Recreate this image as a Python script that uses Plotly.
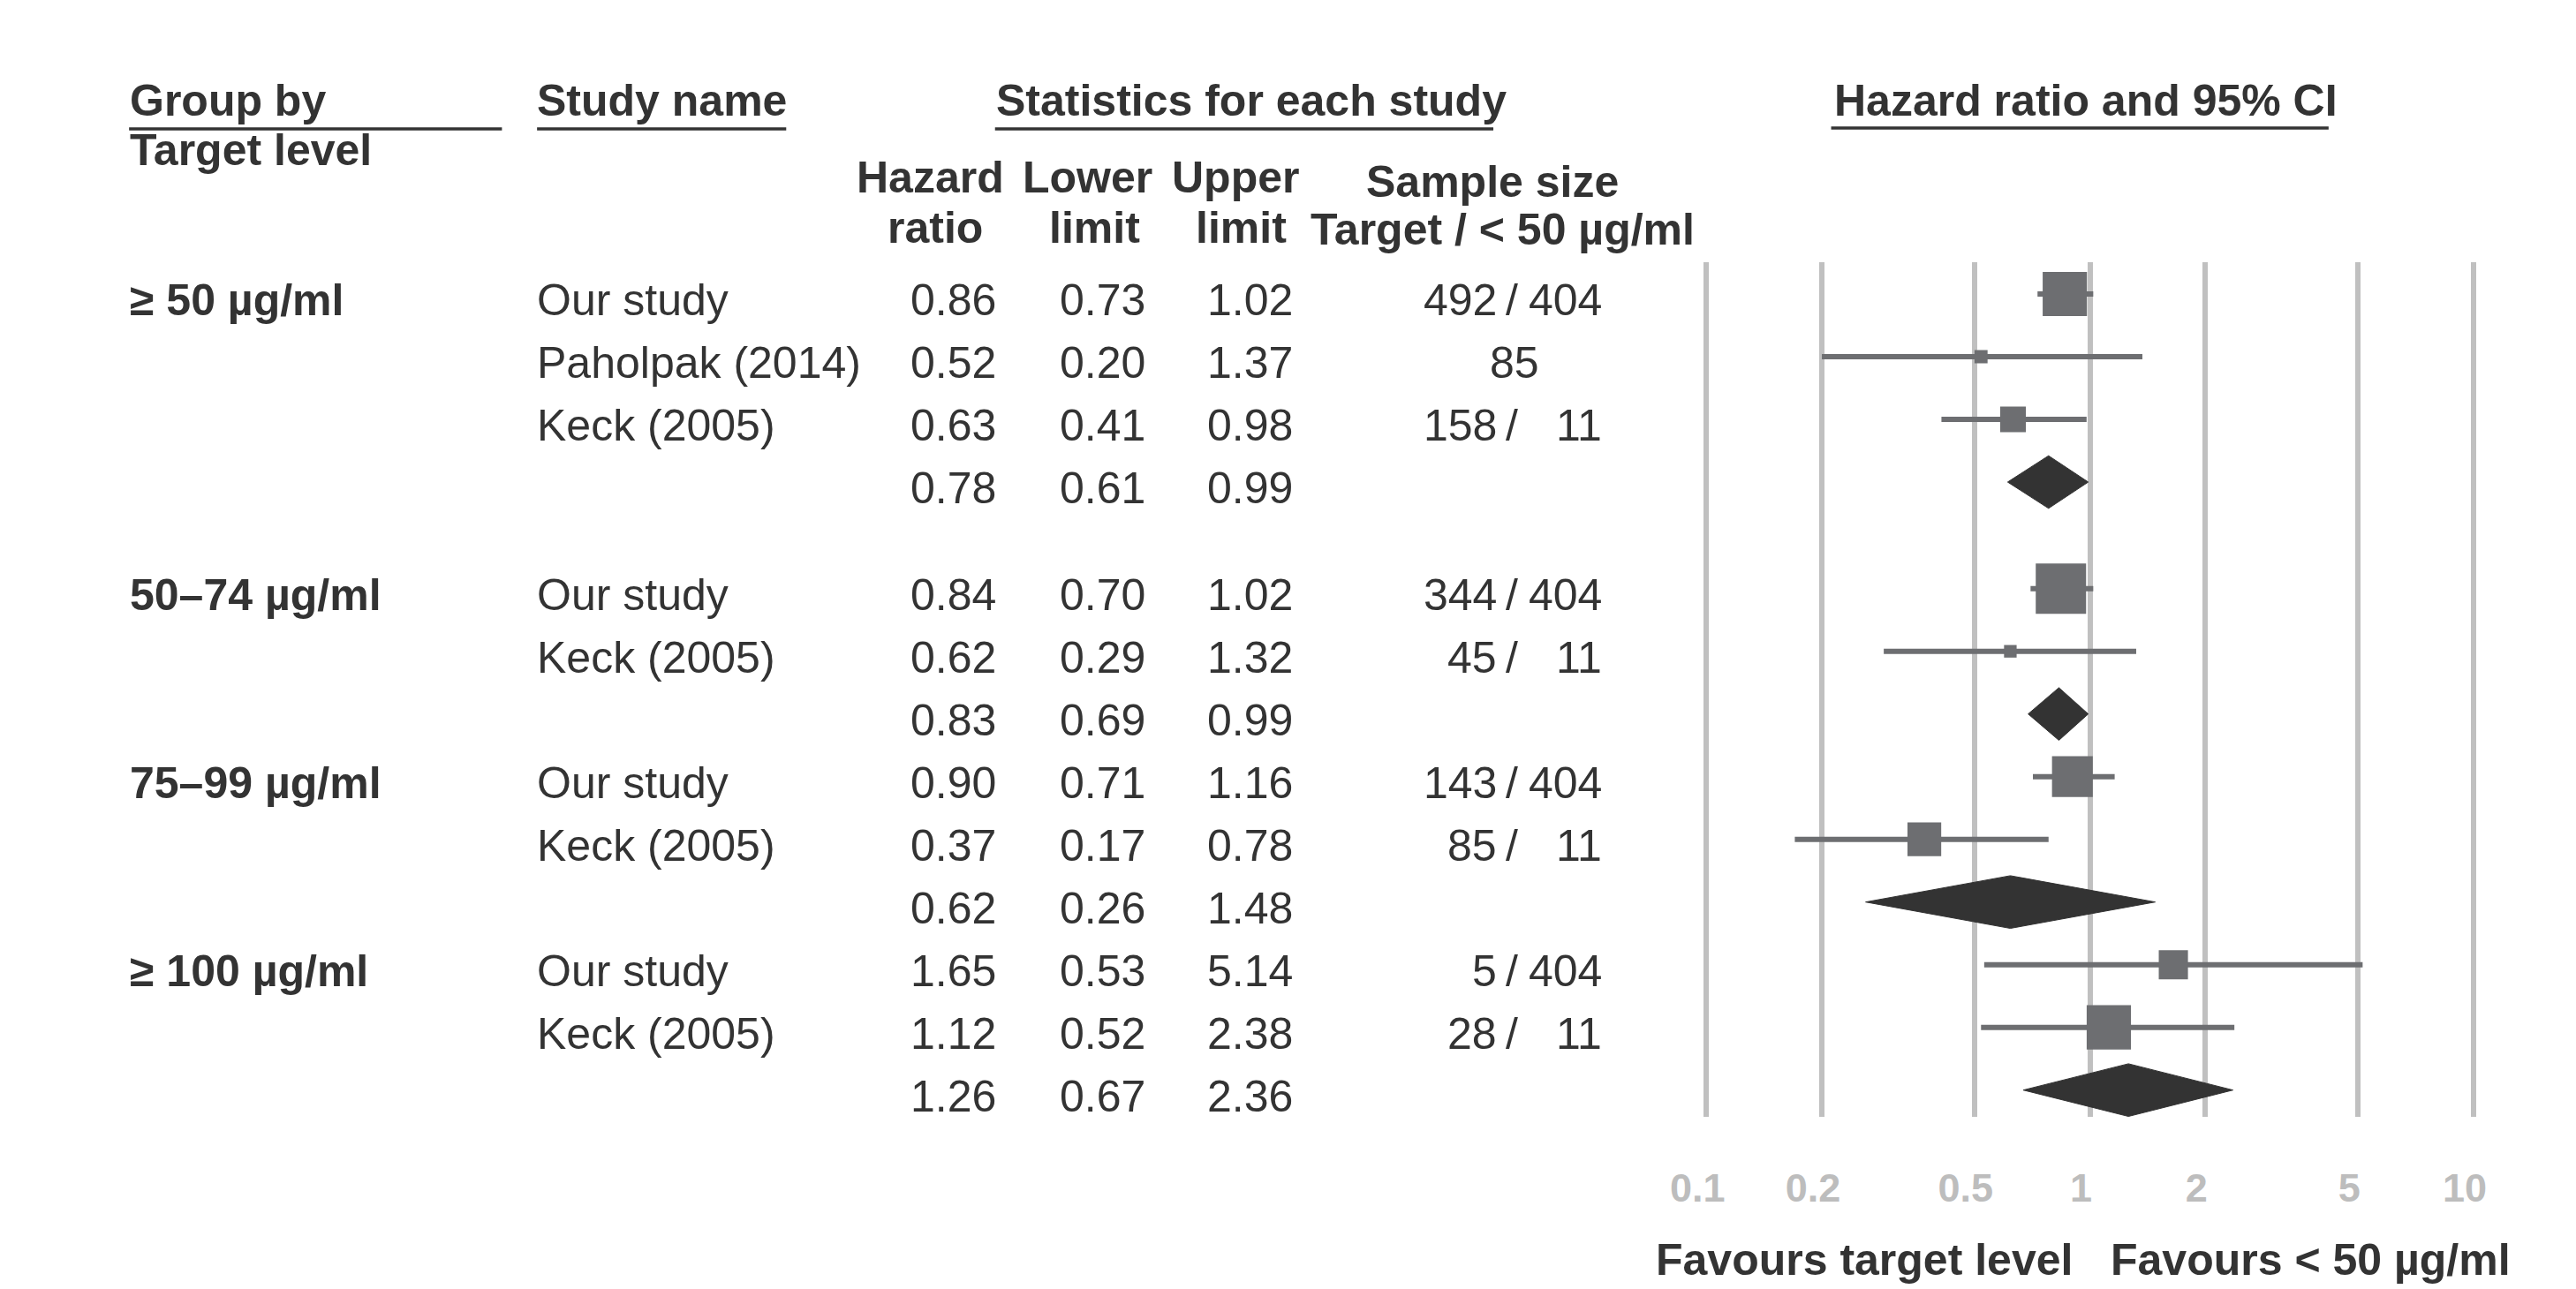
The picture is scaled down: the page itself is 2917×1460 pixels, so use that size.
import plotly.graph_objects as go

# rows of the forest plot, top to bottom
group_label = ["≥ 50 µg/ml", "", "", "", "50–74 µg/ml", "", "", "75–99 µg/ml", "", "",
               "≥ 100 µg/ml", "", ""]
study_name = ["Our study", "Paholpak (2014)", "Keck (2005)", "",
              "Our study", "Keck (2005)", "",
              "Our study", "Keck (2005)", "",
              "Our study", "Keck (2005)", ""]
hazard_ratio = [0.86, 0.52, 0.63, 0.78, 0.84, 0.62, 0.83, 0.90, 0.37, 0.62, 1.65, 1.12, 1.26]
lower_limit = [0.73, 0.20, 0.41, 0.61, 0.70, 0.29, 0.69, 0.71, 0.17, 0.26, 0.53, 0.52, 0.67]
upper_limit = [1.02, 1.37, 0.98, 0.99, 1.02, 1.32, 0.99, 1.16, 0.78, 1.48, 5.14, 2.38, 2.36]
sample_size = ["492 / 404", "85", "158 / 11", "", "344 / 404", "45 / 11", "",
               "143 / 404", "85 / 11", "", "5 / 404", "28 / 11", ""]
is_pooled = [False, False, False, True, False, False, True, False, False, True,
             False, False, True]
# relative study weight (box size)
box_weight = [0.88, 0.26, 0.51, None, 1.0, 0.25, None, 0.81, 0.67, None, 0.58, 0.88, None]

tick_vals = [0.1, 0.2, 0.5, 1, 2, 5, 10]
tick_text = ["0.1", "0.2", "0.5", "1", "2", "5", "10"]

W, H = 2917, 1460
FONT = "Liberation Sans, Arial, sans-serif"
DARK = "#333333"
BOX = "#6d6e71"


def px(x):
    return x / W


def py(y):
    return 1 - y / H


# row slots (gap after the first group)
slots = [i + (0.7 if i >= 4 else 0) for i in range(len(hazard_ratio))]
ROW_PX = 71
TOP_PX, BOT_PX, FIRST_ROW_PX = 297, 1265, 333

fig = go.Figure()

# confidence intervals
ci_x, ci_y = [], []
for s, lo, hi, pooled in zip(slots, lower_limit, upper_limit, is_pooled):
    if not pooled:
        ci_x += [lo, hi, None]
        ci_y += [s, s, None]
fig.add_trace(go.Scatter(x=ci_x, y=ci_y, mode="lines",
                         line=dict(color=BOX, width=6), hoverinfo="skip"))

# study boxes
bx = [h for h, p in zip(hazard_ratio, is_pooled) if not p]
by = [s for s, p in zip(slots, is_pooled) if not p]
bs = [w * 57 for w, p in zip(box_weight, is_pooled) if not p]
fig.add_trace(go.Scatter(x=bx, y=by, mode="markers",
                         marker=dict(symbol="square", size=bs, color=BOX, opacity=1,
                                     line=dict(width=0))))

# pooled diamonds
half = 0.42
dx, dy = [], []
for s, h, lo, hi, pooled in zip(slots, hazard_ratio, lower_limit, upper_limit, is_pooled):
    if pooled:
        dx += [lo, h, hi, h, lo, None]
        dy += [s, s - half, s, s + half, s, None]
fig.add_trace(go.Scatter(x=dx, y=dy, mode="lines", fill="toself",
                         fillcolor=DARK, line=dict(color=DARK, width=1),
                         hoverinfo="skip"))

ann = []


def text(x, y, t, anchor="left", yref="paper", bold=False, size=50, yshift=0):
    ann.append(dict(x=x, y=y, xref="paper", yref=yref, text=("<b>%s</b>" % t) if bold else t,
                    showarrow=False, xanchor=anchor, yanchor="middle", yshift=yshift,
                    borderpad=0, borderwidth=0,
                    font=dict(family=FONT, size=size, color=DARK)))


# headers
text(px(129), py(114), "Group by", bold=True)
text(px(129), py(170), "Target level", bold=True)
text(px(593), py(114), "Study name", bold=True)
text(px(1116), py(114), "Statistics for each study", bold=True)
text(px(2071), py(114), "Hazard ratio and 95% CI", bold=True)
text(px(1041), py(201), "Hazard", "center", bold=True)
text(px(1047), py(258), "ratio", "center", bold=True)
text(px(1220), py(201), "Lower", "center", bold=True)
text(px(1228), py(258), "limit", "center", bold=True)
text(px(1389), py(201), "Upper", "center", bold=True)
text(px(1396), py(258), "limit", "center", bold=True)
text(px(1682), py(206), "Sample size", "center", bold=True)
text(px(1694), py(260), "Target / < 50 µg/ml", "center", bold=True)
text(px(2106), py(1427), "Favours target level", "center", bold=True)
text(px(2615), py(1427), "Favours < 50 µg/ml", "center", bold=True)

# table rows
for i, s in enumerate(slots):
    if group_label[i]:
        text(px(129), s, group_label[i], yref="y", bold=True, yshift=-7)
    if study_name[i]:
        text(px(593), s, study_name[i], yref="y", yshift=-7)
    text(px(1116), s, "%.2f" % hazard_ratio[i], "right", yref="y", yshift=-7)
    text(px(1286), s, "%.2f" % lower_limit[i], "right", yref="y", yshift=-7)
    text(px(1454), s, "%.2f" % upper_limit[i], "right", yref="y", yshift=-7)
    if " / " in sample_size[i]:
        a, b = sample_size[i].split(" / ")
        text(px(1687), s, a, "right", yref="y", yshift=-7)
        text(px(1704), s, "/", "center", yref="y", yshift=-7)
        text(px(1807), s, b, "right", yref="y", yshift=-7)
    elif sample_size[i]:
        text(px(1707), s, sample_size[i], "center", yref="y", yshift=-7)

# header underlines
shapes = []
for x0, x1, y in [(128, 553, 146), (593, 877, 146), (1115, 1683, 146), (2068, 2635, 145)]:
    shapes.append(dict(type="line", xref="paper", yref="paper", x0=px(x0), x1=px(x1),
                       y0=py(y), y1=py(y), line=dict(color=DARK, width=3.5)))

fig.update_layout(
    width=W, height=H,
    margin=dict(l=0, r=0, t=0, b=0),
    paper_bgcolor="white", plot_bgcolor="white",
    showlegend=False,
    annotations=ann, shapes=shapes,
    xaxis=dict(type="log", range=[-1.05, 1.05], domain=[px(1904), px(2822)],
               tickvals=tick_vals, ticktext=tick_text, showgrid=True,
               gridcolor="#c0c0c0", gridwidth=6, zeroline=False, showline=False,
               ticks="", ticklabelshift=-10, ticklabelstandoff=50,
               tickfont=dict(family=FONT, size=45, color="#bdbdbd", weight="bold")),
    yaxis=dict(range=[(BOT_PX - FIRST_ROW_PX) / ROW_PX, (TOP_PX - FIRST_ROW_PX) / ROW_PX],
               domain=[py(BOT_PX), py(TOP_PX)], visible=False, showgrid=False,
               zeroline=False),
)

page_fix = ("document.body.style.margin='0';document.body.style.padding='0';"
            "var d=document.getElementById('{plot_id}');"
            "d.style.position='absolute';d.style.left='0px';d.style.top='0px';")
fig.write_html("out.html", config={"displayModeBar": False}, post_script=page_fix)
